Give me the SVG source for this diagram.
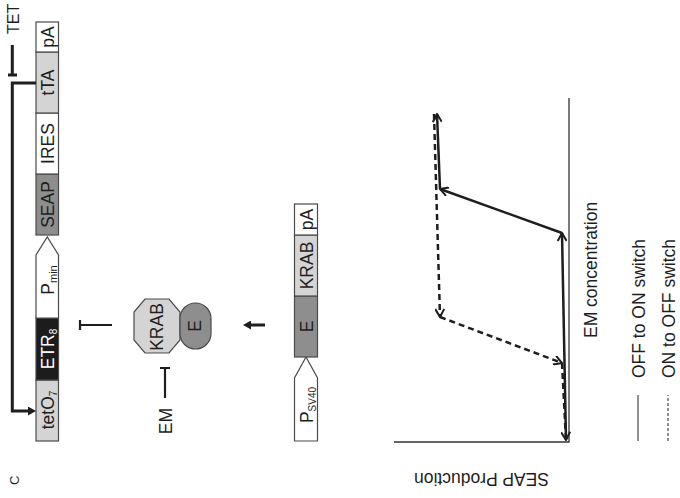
<svg xmlns="http://www.w3.org/2000/svg" width="680" height="498" viewBox="0 0 680 498">
<defs>
<style>
text { font-family: "Liberation Sans", Arial, sans-serif; fill: #1e1e1e; }
.lbl { font-size: 17.5px; text-anchor: middle; }
.sub { font-size: 10px; }
.box { stroke: #4a4a4a; stroke-width: 1.2; }
.lg { fill: #d4d4d4; }
.dg { fill: #8e8e8e; }
.wh { fill: #ffffff; }
.bk { fill: #1c1c1c; }
.thick { fill: none; stroke: #1e1e1e; stroke-width: 3; }
.inh { fill: none; stroke: #1e1e1e; stroke-width: 2.2; }
.curve { fill: none; stroke: #1e1e1e; stroke-width: 2.5; marker-end: url(#oa); }
.dash { stroke-dasharray: 6 4; }
.axis { stroke: #333; stroke-width: 1.3; fill: none; }
.leg { stroke: #555; stroke-width: 1.3; fill: none; }
</style>
<marker id="oa" viewBox="0 0 10 10" refX="9" refY="5" markerWidth="10" markerHeight="10" markerUnits="userSpaceOnUse" orient="auto">
<path d="M1,0.5 L9,5 L1,9.5" fill="none" stroke="#1e1e1e" stroke-width="2" stroke-dasharray="none"/>
</marker>
<marker id="fa" viewBox="0 0 8 9" refX="1" refY="4.5" markerWidth="8" markerHeight="9" markerUnits="userSpaceOnUse" orient="auto">
<path d="M0,0 L8,4.5 L0,9 Z" fill="#1e1e1e"/>
</marker>
</defs>
<g transform="translate(0,498) rotate(-90)">
<text x="13" y="19" font-size="13">C</text>

<g id="construct1">
<g id="tetO7"><rect class="box lg" x="57" y="36" width="61" height="22.5"/><text class="lbl" x="88" y="53.5">tetO<tspan class="sub" dy="3">7</tspan></text></g>
<g id="ETR8"><rect class="box bk" x="118" y="36" width="62" height="22.5"/><text class="lbl" x="149" y="53.5" style="fill:#fff">ETR<tspan class="sub" dy="3" style="fill:#fff">8</tspan></text></g>
<g id="Pmin"><path class="box wh" d="M180,36 H243 L261,47.25 L243,58.5 H180 Z"/><text class="lbl" x="218" y="53.5">P<tspan font-size="11" dy="3">min</tspan></text></g>
<g id="SEAP"><rect class="box dg" x="263" y="36" width="61" height="22.5"/><text class="lbl" x="293.5" y="53.5">SEAP</text></g>
<g id="IRES"><rect class="box wh" x="324" y="36" width="61" height="22.5"/><text class="lbl" x="354.5" y="53.5">IRES</text></g>
<g id="tTA"><rect class="box lg" x="385" y="36" width="61" height="22.5"/><text class="lbl" x="415.5" y="53.5">tTA</text></g>
<g id="pA1"><rect class="box wh" x="446" y="36" width="30" height="22.5"/><text class="lbl" x="461" y="53.5">pA</text></g>
</g>

<g id="TET"><text x="464" y="18.5" font-size="16">TET</text></g>

<g id="complex">
<polygon class="box lg" points="158,134 186,134 199,145 199,169 186,180 158,180 145,169 145,145"/>
<text class="lbl" x="171" y="163">KRAB</text>
<rect class="box dg" x="149" y="180" width="46" height="31" rx="15.5" ry="15.5"/>
<text class="lbl" x="172" y="201">E</text>
</g>

<g id="EM"><text class="lbl" x="77" y="172">EM</text></g>

<g id="construct2">
<g id="PSV40"><path class="box wh" d="M57,294.5 H120 L141,306 L120,317.5 H57 Z"/><text class="lbl" x="93" y="312.5">P<tspan class="sub" dy="3">SV40</tspan></text></g>
<g id="E"><rect class="box dg" x="141" y="294.5" width="61" height="23"/><text class="lbl" x="171.5" y="312.5">E</text></g>
<g id="KRAB"><rect class="box lg" x="202" y="294.5" width="61" height="23"/><text class="lbl" x="232.5" y="312.5">KRAB</text></g>
<g id="pA2"><rect class="box wh" x="263" y="294.5" width="31" height="23"/><text class="lbl" x="278.5" y="312.5">pA</text></g>
</g>

<g id="connectors">
<path class="thick" d="M415,36 V12.3 H87 V29" marker-end="url(#fa)"/>
<path class="thick" d="M453,12.3 H423 M423,8 V17"/>
<path class="inh" d="M173,112 V80 M168,80 H178"/>
<path class="inh" d="M100,165 H130 M130,160 V170"/>
<path class="thick" d="M173,265 V250" marker-end="url(#fa)"/>
</g>

<g id="graph">
<path class="axis" d="M56,394 V569 H400"/>
<text x="25" y="0" font-size="17.5" text-anchor="middle" transform="translate(25,481.5) rotate(-90) translate(-25,0)">SEAP Production</text>
<text x="160" y="597" font-size="17.5">EM concentration</text>
<g id="curves">
<path class="curve" d="M58,566 L265,562"/>
<path class="curve" d="M265,562 L309,440"/>
<path class="curve" d="M309,440 L384,437"/>
<path class="curve dash" d="M384,434 L181,440"/>
<path class="curve dash" d="M181,440 L135,562"/>
<path class="curve dash" d="M135,562 L58,566"/>
</g>
<g id="legend">
<path class="leg" d="M57,638 H103"/>
<path class="leg" d="M57,668 H103" stroke-dasharray="3 2"/>
<text x="120" y="645" font-size="17.5">OFF to ON switch</text>
<text x="120" y="675" font-size="17.5">ON to OFF switch</text>
</g>
</g>
</g>
</svg>
